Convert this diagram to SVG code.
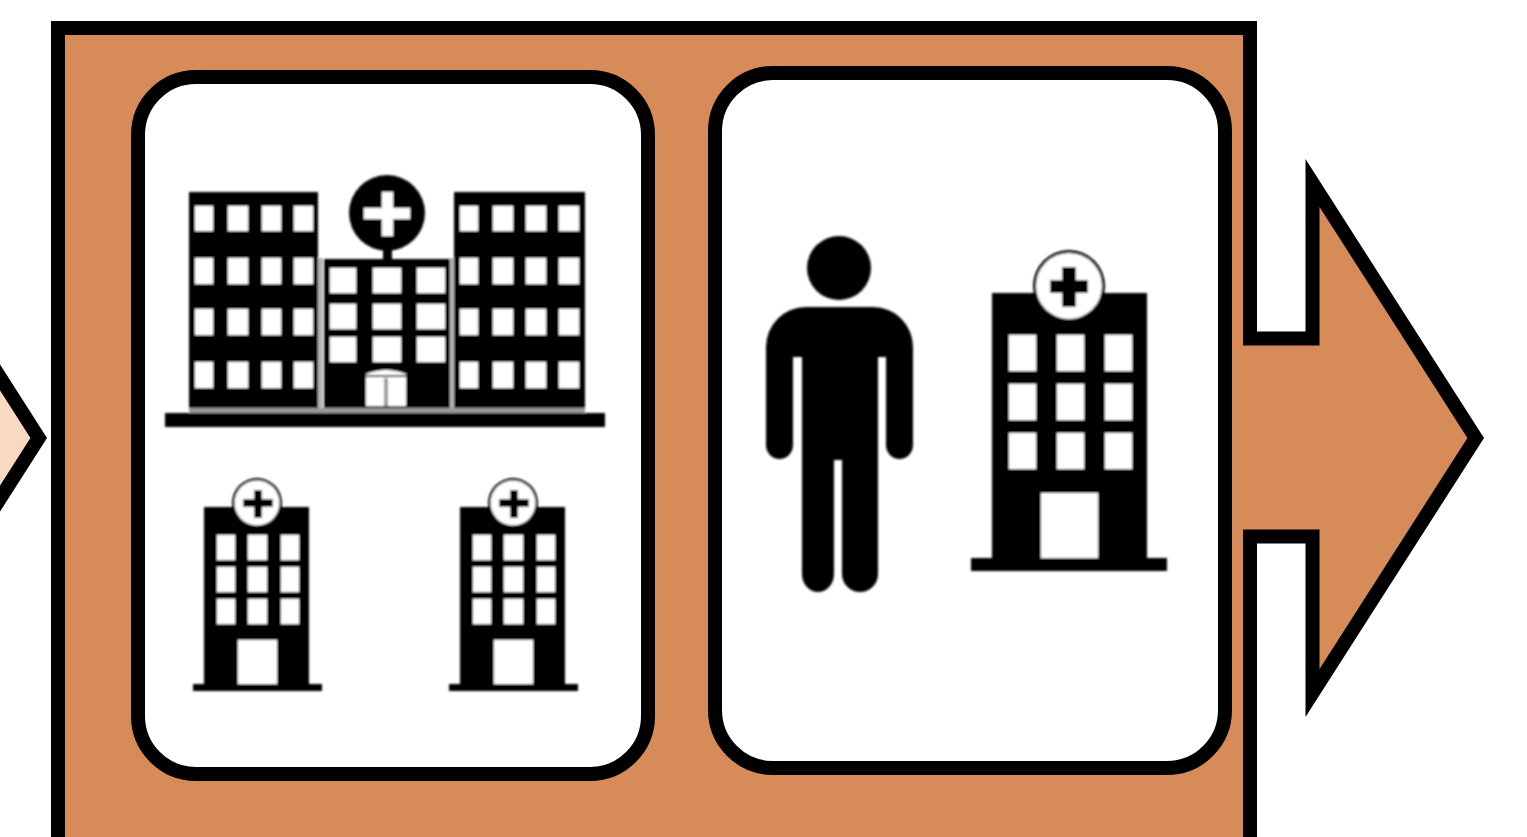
<svg xmlns="http://www.w3.org/2000/svg" width="1527" height="837" viewBox="0 0 1527 837">
<style>
.arrow{stroke:#000;stroke-width:14;stroke-linejoin:miter;stroke-miterlimit:6}
.panel{fill:#fff;stroke:#000;stroke-width:14}
.k{fill:#000}
.w{fill:#fff}
.g{fill:#9a9a9a}
.icon{filter:url(#soft)}
.edge{filter:url(#edge)}
</style>
<defs>
<filter id="soft" filterUnits="userSpaceOnUse" x="0" y="0" width="1527" height="837"><feGaussianBlur stdDeviation="1"/></filter>
<filter id="edge" filterUnits="userSpaceOnUse" x="-20" y="0" width="1567" height="900"><feGaussianBlur stdDeviation="0.5"/></filter>
<g id="smallHospital">
<rect class="k" x="204" y="507" width="105" height="178"/>
<rect class="k" x="193" y="684" width="129" height="7"/>
<circle class="k" cx="257" cy="503" r="25"/>
<circle class="w" cx="257" cy="503" r="22.5"/>
<path class="k" d="M254 490h8v9h11v8h-11v11h-8v-11h-11v-8h11z"/>
<rect class="w" x="217" y="535" width="18" height="25"/><rect class="w" x="248" y="535" width="19" height="25"/><rect class="w" x="281" y="535" width="18" height="25"/>
<rect class="w" x="217" y="567" width="18" height="25"/><rect class="w" x="248" y="567" width="19" height="25"/><rect class="w" x="281" y="567" width="18" height="25"/>
<rect class="w" x="217" y="599" width="18" height="25"/><rect class="w" x="248" y="599" width="19" height="25"/><rect class="w" x="281" y="599" width="18" height="25"/>
<rect class="w" x="238" y="640" width="39" height="44"/>
</g>
</defs>
<rect width="1527" height="837" fill="#fff"/>
<g id="frame">
<rect class="edge" x="58" y="28" width="1192" height="830" fill="#d78b59" stroke="#000" stroke-width="14"/>
</g>
<g id="connectors" class="edge">
<path class="arrow" fill="#fad9c3" d="M-12 358.6L38.7 438L-12 517.4"/>
<path class="arrow" fill="#d78b59" d="M1243 338.5H1312.5V183L1475.7 438L1312.5 693V536.5H1243"/>
</g>
<g id="panel-left">
<rect class="panel edge" x="138" y="77" width="510" height="697" rx="58"/>
<g class="icon">
<g id="large-hospital">
<rect class="g" x="189" y="408" width="396" height="6"/>
<rect x="318" y="258" width="5" height="150" fill="#b5b5b5"/>
<rect x="450" y="258" width="4" height="150" fill="#b5b5b5"/>
<rect class="k" x="189" y="192" width="129" height="216"/>
<rect class="k" x="454" y="192" width="131" height="216"/>
<rect class="k" x="324" y="259" width="126" height="149"/>
<rect class="k" x="165" y="413" width="440" height="14"/>
<circle class="k" cx="387" cy="213" r="38"/>
<rect class="k" x="383" y="248" width="9" height="12"/>
<path class="w" d="M382 192h11v16h17v11h-17v17h-11v-17h-18v-11h18z"/>
<g class="w">
<rect x="195" y="206" width="18" height="25"/><rect x="228" y="206" width="20" height="25"/><rect x="262" y="206" width="19" height="25"/><rect x="294" y="206" width="19" height="25"/>
<rect x="195" y="258" width="18" height="26"/><rect x="228" y="258" width="20" height="26"/><rect x="262" y="258" width="19" height="26"/><rect x="294" y="258" width="19" height="26"/>
<rect x="195" y="309" width="18" height="26"/><rect x="228" y="309" width="20" height="26"/><rect x="262" y="309" width="19" height="26"/><rect x="294" y="309" width="19" height="26"/>
<rect x="195" y="362" width="18" height="26"/><rect x="228" y="362" width="20" height="26"/><rect x="262" y="362" width="19" height="26"/><rect x="294" y="362" width="19" height="26"/>
<rect x="460" y="206" width="18" height="25"/><rect x="493" y="206" width="20" height="25"/><rect x="526" y="206" width="20" height="25"/><rect x="559" y="206" width="20" height="25"/>
<rect x="460" y="258" width="18" height="26"/><rect x="493" y="258" width="20" height="26"/><rect x="526" y="258" width="20" height="26"/><rect x="559" y="258" width="20" height="26"/>
<rect x="460" y="309" width="18" height="26"/><rect x="493" y="309" width="20" height="26"/><rect x="526" y="309" width="20" height="26"/><rect x="559" y="309" width="20" height="26"/>
<rect x="460" y="362" width="18" height="26"/><rect x="493" y="362" width="20" height="26"/><rect x="526" y="362" width="20" height="26"/><rect x="559" y="362" width="20" height="26"/>
<rect x="330" y="268" width="26" height="25"/><rect x="373" y="268" width="28" height="25"/><rect x="417" y="268" width="28" height="25"/>
<rect x="330" y="304" width="26" height="25"/><rect x="373" y="304" width="28" height="25"/><rect x="417" y="304" width="28" height="25"/>
<rect x="330" y="337" width="26" height="25"/><rect x="373" y="337" width="28" height="25"/><rect x="417" y="337" width="28" height="25"/>
<path d="M366 374Q386 366 406 374V406H366z"/>
</g>
<rect class="k" x="366" y="375" width="40" height="2"/>
<rect class="g" x="384" y="378" width="4" height="28"/>
</g>
<use id="small-hospital-1" href="#smallHospital"/>
<use id="small-hospital-2" href="#smallHospital" x="256"/>
</g>
</g>
<g id="panel-right">
<rect class="panel edge" x="715" y="73" width="510" height="695" rx="58"/>
<g class="icon">
<g id="person">
<circle class="k" cx="839" cy="268" r="32"/>
<path class="k" d="M806 307H873A40 40 0 0 1 913 347V445A13.5 14 0 0 1 886 445V357H878V574A18 18 0 0 1 842 574V460H834V574A16 18 0 0 1 802 574V357H793V445A13.5 14 0 0 1 766 445V347A40 40 0 0 1 806 307Z"/>
</g>
<g id="hospital">
<rect class="k" x="992" y="293" width="155" height="266"/>
<rect class="k" x="971" y="558" width="196" height="13"/>
<circle class="k" cx="1069" cy="286" r="36"/>
<circle class="w" cx="1069" cy="286" r="33"/>
<path class="k" d="M1062 267h14v13h12v13h-12v14h-14v-14h-12v-13h12z"/>
<g class="w">
<rect x="1009" y="335" width="27" height="36"/><rect x="1057" y="335" width="27" height="36"/><rect x="1105" y="335" width="27" height="36"/>
<rect x="1009" y="384" width="27" height="36"/><rect x="1057" y="384" width="27" height="36"/><rect x="1105" y="384" width="27" height="36"/>
<rect x="1009" y="433" width="27" height="36"/><rect x="1057" y="433" width="27" height="36"/><rect x="1105" y="433" width="27" height="36"/>
<rect x="1041" y="493" width="57" height="65"/>
</g>
</g>
</g>
</g>
</svg>
